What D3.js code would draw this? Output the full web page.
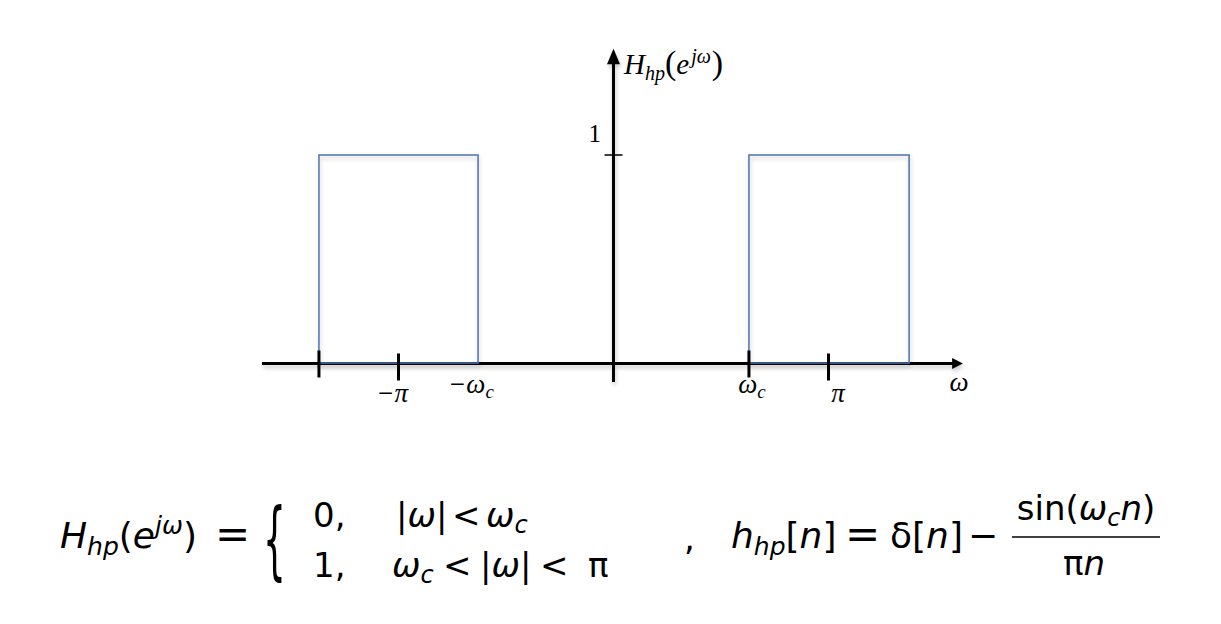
<!DOCTYPE html>
<html><head><meta charset="utf-8">
<script src="https://cdn.jsdelivr.net/npm/d3@7"></script>
<style>
html,body{margin:0;padding:0;background:#fff;}
svg{display:block;}
.ax{font-family:"Liberation Serif","DejaVu Serif",serif;font-style:italic;}
.eq{font-family:"DejaVu Sans","Noto Sans",sans-serif;}
.it{font-style:italic;}
</style></head>
<body>
<svg id="c" width="1221" height="624"></svg>
<script>
// Passbands of the ideal highpass filter (in units of π) and their gain
const bandStarts = [-1.37, 0.63];
const bandEnds   = [-0.63, 1.375];
const bandGain   = [1, 1];
// Tick marks on the ω axis (units of π)
const tickPositions = [-1.37, -1, 0.63, 1];
// Tick labels and where they sit (units of π)
const tickLabels = ["−π", "−ωc", "ωc", "π"];
const labelPositions = [-1.03, -0.663, 0.644, 1.044];
const yTicks = [1];

const svg = d3.select("#c");
const x = d3.scaleLinear().domain([0, 1]).range([613.5, 828.5]);
const y = d3.scaleLinear().domain([0, 1]).range([363.5, 155]);

const defs = svg.append("defs");
const f = defs.append("filter").attr("id","sh").attr("x","-10%").attr("y","-50%").attr("width","120%").attr("height","300%");
f.append("feGaussianBlur").attr("in","SourceAlpha").attr("stdDeviation","2");
f.append("feOffset").attr("dx","1").attr("dy","3").attr("result","b");
f.append("feComponentTransfer").append("feFuncA").attr("type","linear").attr("slope","0.22");
const m = f.append("feMerge"); m.append("feMergeNode"); m.append("feMergeNode").attr("in","SourceGraphic");

// axes
const gAx = svg.append("g").attr("filter","url(#sh)");
gAx.append("line").attr("x1", x(-1.635)).attr("x2", x(1.585)).attr("y1", y(0)).attr("y2", y(0))
  .attr("stroke","#000").attr("stroke-width",3);
gAx.append("path").attr("d", `M${x(1.625)},${y(0)} L${x(1.575)},${y(0)-5.5} L${x(1.575)},${y(0)+5.5} Z`).attr("fill","#000");
gAx.append("line").attr("x1", x(0)).attr("x2", x(0)).attr("y1", 382).attr("y2", y(1.45))
  .attr("stroke","#000").attr("stroke-width",3);
gAx.append("path").attr("d", `M${x(0)},${y(1.51)} L${x(0)-6.5},${y(1.435)} L${x(0)+6.5},${y(1.435)} Z`).attr("fill","#000");

// bands
const bands = bandStarts.map((s,i)=>({s, e: bandEnds[i], g: bandGain[i]}));
svg.append("g").selectAll("path").data(bands).join("path")
  .attr("d", d => `M${x(d.s)},${y(0)-0.5} L${x(d.s)},${y(d.g)} L${x(d.e)},${y(d.g)} L${x(d.e)},${y(0)-0.5} Z`)
  .attr("fill","none").attr("stroke","#4a72b5").attr("stroke-width",1.5).attr("filter","url(#sh)");

// ticks
svg.append("g").selectAll("line").data(tickPositions).join("line")
  .attr("x1", d => x(d)).attr("x2", d => x(d))
  .attr("y1", d => Math.abs(d) === 1 ? y(0)-10 : y(0)-13)
  .attr("y2", d => Math.abs(d) === 1 ? y(0)+17 : y(0)+14)
  .attr("stroke","#000").attr("stroke-width",3);
svg.append("g").selectAll("line").data(yTicks).join("line")
  .attr("x1", x(0)-9).attr("x2", x(0)+9).attr("y1", d=>y(d)).attr("y2", d=>y(d))
  .attr("stroke","#000").attr("stroke-width",1.5);

// tick labels
const lab = svg.append("g").attr("class","ax").attr("font-size",27);
lab.selectAll("text").data(tickLabels).join("text")
  .attr("x", (d,i)=>x(labelPositions[i])).attr("y", (d,i)=> i===1||i===2 ? 393 : 402)
  .attr("text-anchor","middle")
  .each(function(d){
    const t = d3.select(this);
    if (d.endsWith("c")) {
      t.append("tspan").text(d.slice(0,-1));
      t.append("tspan").attr("font-size",19).attr("dy",5).text("c");
    } else t.text(d);
  });
svg.append("text").attr("class","ax").attr("font-size",27).attr("x",959).attr("y",391).attr("text-anchor","middle").text("ω");
svg.append("text").attr("class","ax").attr("font-size",25).attr("x",601).attr("y",142).attr("text-anchor","end").style("font-style","normal").text(yTicks[0]);
const yl = svg.append("text").attr("class","ax").attr("font-size",29).attr("x",624).attr("y",74);
yl.append("tspan").text("H");
yl.append("tspan").attr("font-size",20).attr("dy",6).text("hp");
yl.append("tspan").attr("dy",-6).style("font-style","normal").attr("font-size",34).text("(");
yl.append("tspan").text("e");
yl.append("tspan").attr("font-size",20).attr("dx",2).attr("dy",-11).text("jω");
yl.append("tspan").attr("dy",11).attr("dx",1).style("font-style","normal").attr("font-size",34).text(")");

// bottom formulas
const eq = svg.append("g").attr("class","eq").attr("fill","#000");
const t1 = eq.append("text").attr("x",60).attr("y",548).attr("font-size",36);
t1.append("tspan").attr("class","it").text("H");
t1.append("tspan").attr("class","it").attr("font-size",25).attr("dy",7).text("hp");
t1.append("tspan").attr("dy",-7).text("(");
t1.append("tspan").attr("class","it").text("e");
t1.append("tspan").attr("class","it").attr("font-size",25).attr("dy",-14).text("jω");
t1.append("tspan").attr("dy",14).text(")");
t1.append("tspan").attr("x",215).attr("font-size",42).text("=");
eq.append("text").attr("font-family","DejaVu Sans").attr("font-size",36)
  .attr("transform","translate(263,569) scale(1,2.35)").text("{");
const r1 = eq.append("text").attr("y",527).attr("font-size",34);
r1.append("tspan").attr("x",313).text("0,");
r1.append("tspan").attr("x",396).text("|");
r1.append("tspan").attr("class","it").text("ω");
r1.append("tspan").text("|");
r1.append("tspan").attr("x",452).text("<");
r1.append("tspan").attr("x",486).attr("class","it").text("ω");
r1.append("tspan").attr("class","it").attr("font-size",24).attr("dy",6).text("c");
const r2 = eq.append("text").attr("y",577).attr("font-size",34);
r2.append("tspan").attr("x",313).text("1,");
r2.append("tspan").attr("x",392).attr("class","it").text("ω");
r2.append("tspan").attr("class","it").attr("font-size",24).attr("dy",6).text("c");
r2.append("tspan").attr("dy",-6).attr("x",443).text("<");
r2.append("tspan").attr("x",480).text("|");
r2.append("tspan").attr("class","it").text("ω");
r2.append("tspan").text("|");
r2.append("tspan").attr("x",540).text("<");
r2.append("tspan").attr("x",588).text("π");
eq.append("text").attr("x",684).attr("y",550).attr("font-size",34).text(",");
const t2 = eq.append("text").attr("y",548).attr("font-size",36);
t2.append("tspan").attr("x",731).attr("class","it").text("h");
t2.append("tspan").attr("class","it").attr("font-size",25).attr("dy",7).text("hp");
t2.append("tspan").attr("dy",-7).text("[");
t2.append("tspan").attr("class","it").text("n");
t2.append("tspan").text("]");
t2.append("tspan").attr("x",845).attr("font-size",42).text("=");
t2.append("tspan").attr("x",890).text("δ[");
t2.append("tspan").attr("class","it").text("n");
t2.append("tspan").text("]");
t2.append("tspan").attr("x",968).text("−");
const num = eq.append("text").attr("x",1086).attr("y",520).attr("font-size",34).attr("text-anchor","middle");
num.append("tspan").text("sin(");
num.append("tspan").attr("class","it").text("ω");
num.append("tspan").attr("class","it").attr("font-size",24).attr("dy",6).text("c");
num.append("tspan").attr("class","it").attr("dy",-6).text("n");
num.append("tspan").text(")");
eq.append("line").attr("x1",1012).attr("x2",1160).attr("y1",537).attr("y2",537).attr("stroke","#000").attr("stroke-width",1.6);
const den = eq.append("text").attr("x",1084).attr("y",575).attr("font-size",34).attr("text-anchor","middle");
den.append("tspan").text("π");
den.append("tspan").attr("class","it").text("n");
</script>
</body></html>
